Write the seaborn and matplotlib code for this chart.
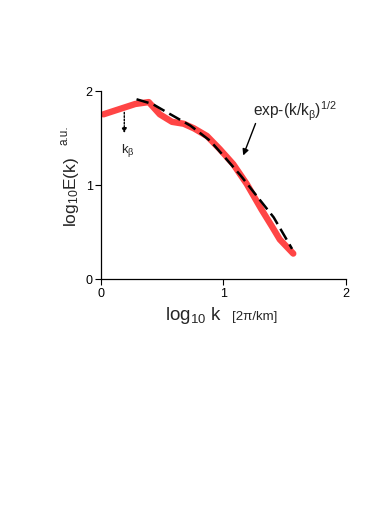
import numpy as np
import pandas as pd
import matplotlib
matplotlib.use("Agg")
import matplotlib.pyplot as plt
import seaborn as sns

# data
spec_x = [0.02, 0.185, 0.28, 0.39, 0.48, 0.58, 0.675, 0.76, 0.865, 0.97,
          1.08, 1.19, 1.31, 1.40, 1.46, 1.57]
spec_y = [1.75, 1.82, 1.86, 1.88, 1.75, 1.67, 1.65, 1.60, 1.52, 1.38,
          1.22, 1.01, 0.74, 0.55, 0.42, 0.27]

fit_x = [0.29, 0.42, 0.54, 0.73, 0.89, 1.00, 1.14, 1.27, 1.41, 1.545, 1.56]
fit_y = [1.91, 1.86, 1.77, 1.63, 1.47, 1.31, 1.10, 0.885, 0.655, 0.354, 0.32]

x_ticks = [0, 1, 2]
y_ticks = [0, 1, 2]

spec = pd.DataFrame({"x": spec_x, "y": spec_y})
fit = pd.DataFrame({"x": fit_x, "y": fit_y})

sns.set_style("ticks")
plt.rcParams["font.family"] = ["Liberation Sans", "DejaVu Sans"]
plt.rcParams["mathtext.fontset"] = "custom"
plt.rcParams["mathtext.rm"] = "Liberation Sans"
plt.rcParams["mathtext.it"] = "Liberation Sans"

fig = plt.figure(figsize=(3.9, 5.1), dpi=100)
ax = fig.add_axes([0.259, 0.451, 0.628, 0.369])

sns.lineplot(data=spec, x="x", y="y", ax=ax, color="#ff4545", lw=4.6,
             sort=False, solid_capstyle="round", solid_joinstyle="round")
sns.lineplot(data=fit, x="x", y="y", ax=ax, color="black", lw=1.8,
             sort=False, dashes=False, linestyle=(0, (5, 2.2)))

ax.set_xlim(0, 2)
ax.set_ylim(0, 2)
ax.set_xticks(x_ticks)
ax.set_yticks(y_ticks)
ax.tick_params(labelsize=9, length=4, width=0.8, pad=2, colors="black")
for s in ["left", "bottom"]:
    ax.spines[s].set_linewidth(0.9)
    ax.spines[s].set_color("black")
sns.despine(ax=ax)

ax.set_xlabel("")
ax.set_ylabel("")
fig.text(0.569, 0.373, r"log$_{10}$ k", fontsize=13.5, ha="right", va="baseline")
fig.text(0.595, 0.373, "[2π/km]", fontsize=9.5, ha="left", va="baseline")
fig.text(0.159, 0.555, r"log$_{10}$E(k)", fontsize=12.5, rotation=90,
         ha="left", va="bottom")
fig.text(0.149, 0.715, "a.u.", fontsize=8.5, rotation=90, ha="left", va="bottom")

# annotations
ax.annotate("", xy=(0.19, 1.52), xytext=(0.19, 1.80),
            arrowprops=dict(arrowstyle="-|>", linestyle=(0, (1.2, 1.2)),
                            color="black", lw=1.0, mutation_scale=7))
ax.text(0.163, 1.35, r"k$_\beta$", fontsize=9.5, ha="left", va="baseline")
ax.text(1.243, 1.74, r"exp-(k/k$_\beta$)$^{1/2}$", fontsize=11.2,
        ha="left", va="baseline")
ax.annotate("", xy=(1.153, 1.285), xytext=(1.27, 1.68),
            arrowprops=dict(arrowstyle="-|>", color="black", lw=1.0,
                            mutation_scale=9))

fig.savefig("out.png", dpi=100)
